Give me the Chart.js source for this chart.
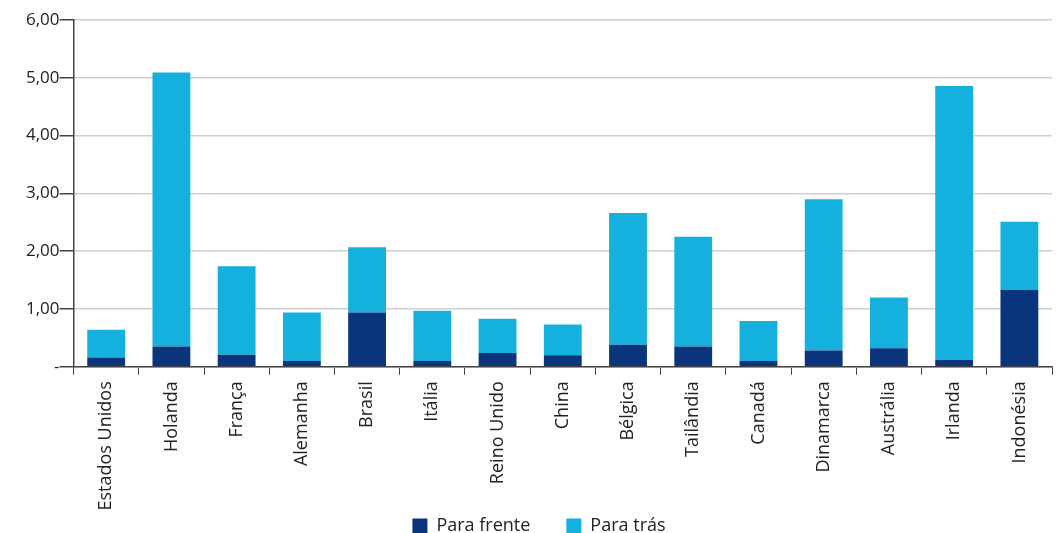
<!DOCTYPE html>
<html>
<head>
<meta charset="utf-8">
<script src="https://cdn.jsdelivr.net/npm/chart.js@4"></script>
<style>
  html, body { margin: 0; padding: 0; background: #fff; }
  #wrap { width: 1056px; height: 533px; }
</style>
</head>
<body>
<div id="wrap"><canvas id="chart"></canvas></div>
<script>
// data
const countries = ['Estados Unidos', 'Holanda', 'França', 'Alemanha', 'Brasil', 'Itália', 'Reino Unido',
  'China', 'Bélgica', 'Tailândia', 'Canadá', 'Dinamarca', 'Austrália', 'Irlanda', 'Indonésia'];
const paraFrente = [0.16, 0.35, 0.21, 0.10, 0.94, 0.10, 0.24, 0.20, 0.38, 0.35, 0.10, 0.28, 0.32, 0.12, 1.33];
const paraTras = [0.48, 4.74, 1.53, 0.84, 1.13, 0.87, 0.59, 0.53, 2.28, 1.90, 0.69, 2.62, 0.88, 4.74, 1.18];
const yTickLabels = ['-', '1,00', '2,00', '3,00', '4,00', '5,00', '6,00'];

Chart.defaults.font.family = 'Open Sans, Noto Sans, sans-serif';
Chart.defaults.font.size = 18;
Chart.defaults.color = '#222';

const data = {
  labels: countries,
  datasets: [
    {
      label: 'Para frente',
      data: paraFrente,
      backgroundColor: '#0a357c'
    },
    {
      label: 'Para trás',
      data: paraTras,
      backgroundColor: '#14b0de'
    }
  ]
};

const options = {
  responsive: true,
  maintainAspectRatio: false,
  animation: false,
  layout: { padding: { top: 20, right: 4, left: 26, bottom: -12 } },
  datasets: {
    bar: { categoryPercentage: 1, barPercentage: 0.58 }
  },
  scales: {
    x: {
      stacked: true,
      grid: { drawOnChartArea: false, offset: true, tickLength: 8, color: '#444' },
      border: { color: '#444', width: 1.5 },
      ticks: { maxRotation: 90, minRotation: 90, autoSkip: false, padding: 6.5 }
    },
    y: {
      stacked: true,
      min: 0,
      max: 6,
      grid: { color: '#cfcfcf', lineWidth: 1.5, tickLength: 14, tickColor: '#444' },
      border: { color: '#444', width: 1.5 },
      ticks: {
        stepSize: 1,
        padding: 0,
        font: { size: 17 },
        callback: function(value, i) { return yTickLabels[i]; }
      }
    }
  },
  plugins: {
    legend: {
      display: true,
      position: 'bottom',
      labels: {
        boxWidth: 15,
        boxHeight: 15,
        padding: 0,
        // widen the gap after the first entry
        generateLabels: function(chart) {
          const items = Chart.defaults.plugins.legend.labels.generateLabels(chart);
          items[0].text = items[0].text + '\u2003\u2003';
          return items;
        }
      }
    },
    tooltip: { enabled: false }
  }
};

new Chart(document.getElementById('chart'), { type: 'bar', data: data, options: options });
</script>
</body>
</html>
